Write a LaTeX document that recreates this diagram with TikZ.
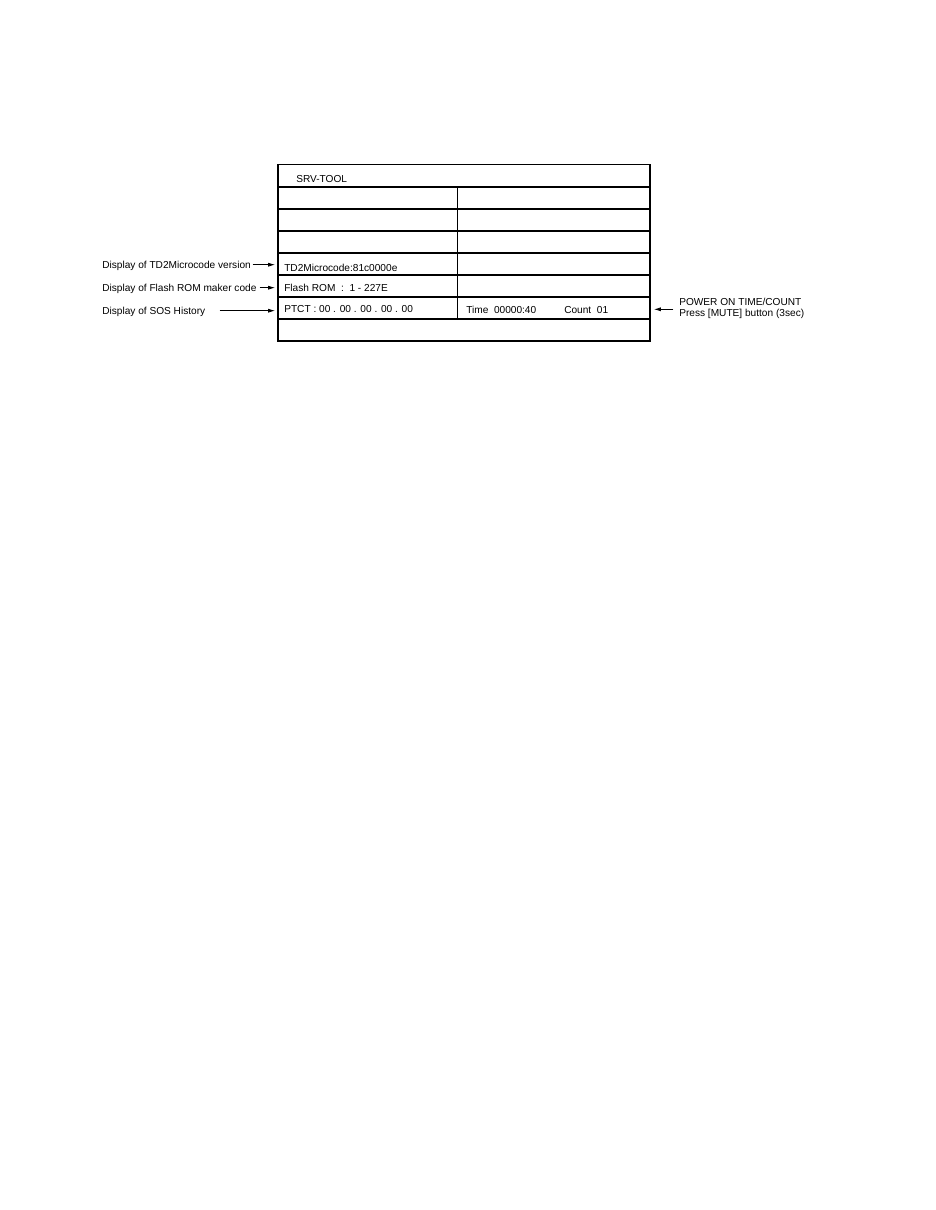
\documentclass[tikz,border=0pt]{standalone}
\usepackage{fontspec}
\setmainfont{Liberation Sans}
\usetikzlibrary{arrows.meta}
\usetikzlibrary{positioning}
\tikzset{
    cell/.style={
        anchor=base west,
        inner sep=0pt,
        font=\fontsize{7.2}{7.6}\selectfont
    },
    note/.style={
        anchor=base west,
        inner sep=0pt,
        align=left,
        font=\fontsize{7.2}{7.6}\selectfont
    },
    pointer/.style={
        draw,
        -{Latex[length=1.7mm, width=1.0mm]},
        line width=0.5pt
    },
    frame/.style={line width=0.8pt}
}

\begin{document}
\begin{tikzpicture}[x=0.025cm, y=-0.025cm]
  \useasboundingbox (0,0) rectangle (935,1210);

  % Screen frame and rows
  \draw[frame] (278,164.5) rectangle (650,341);
  \foreach \y in {187,209,231,253,275,297,319} {
    \draw[frame] (278,\y) -- (650,\y);
  }
  \draw[frame] (457.5,187) -- (457.5,319);

  % Screen texts
  \node[cell] (title) at (296,182) {SRV-TOOL};
  \node[cell] (micro) at (284,271) {TD2Microcode:81c0000e};
  \node[cell] (flash) at (284,291.3) {Flash ROM~~:~~1 - 227E};
  \node[cell] (ptct) at (284,312.7) {PTCT : 00 . 00 . 00 . 00 . 00};
  \node[cell] (time) at (466,313.5) {Time~~00000:40};
  \node[cell] (count) at (564,313.5) {Count~~01};

  % Arrow tips on the frame
  \coordinate (tipMicro) at (275,264.7);
  \coordinate (tipFlash) at (275,287.7);
  \coordinate (tipSos) at (275,310.7);
  \coordinate (tipPower) at (654,309.3);

  % Labels on the left
  \node[note] (lblMicro) at (102,268) {Display of TD2Microcode version};
  \node[note] (lblFlash) at (102,291) {Display of Flash ROM maker code};
  \node[note] (lblSos) at (102,314) {Display of SOS History};

  % Label on the right
  \node[note, anchor=west] (lblPower) at (679,308.7) {POWER ON TIME/COUNT\\Press [MUTE] button (3sec)};

  % Pointers
  \draw[pointer, shorten <=1pt] (lblMicro.east |- tipMicro) -- (tipMicro);
  \draw[pointer, shorten <=2pt] (lblFlash.east |- tipFlash) -- (tipFlash);
  \draw[pointer, shorten <=10pt] (lblSos.east |- tipSos) -- (tipSos);
  \draw[pointer, shorten <=4pt] (lblPower.west |- tipPower) -- (tipPower);
\end{tikzpicture}
\end{document}
